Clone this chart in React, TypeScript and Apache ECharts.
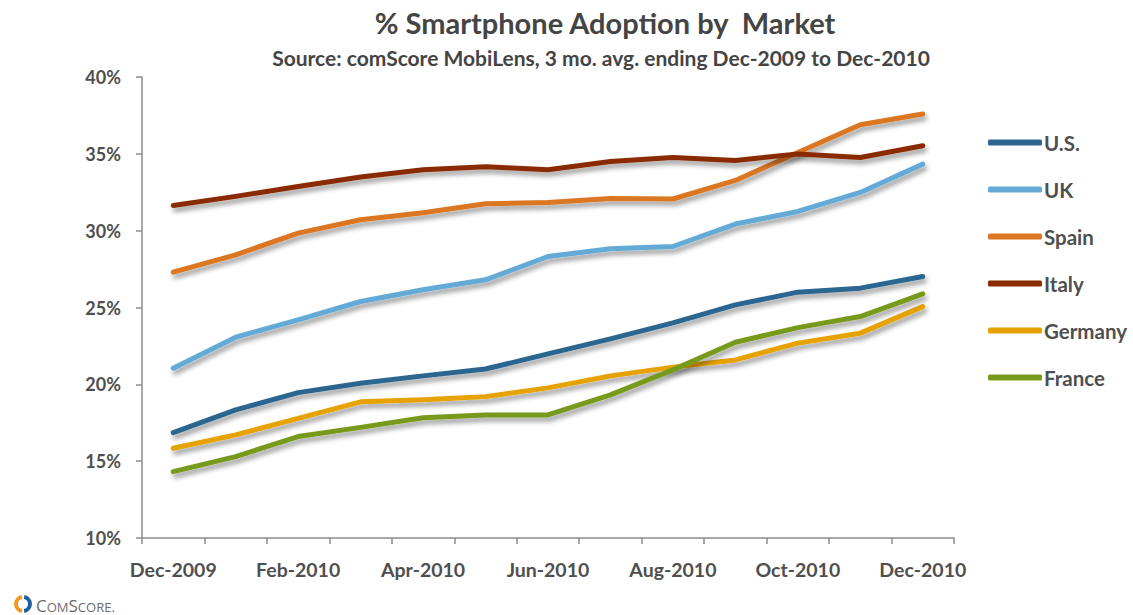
import React, { useEffect, useRef } from "react";
import * as echarts from "echarts";

const categories = [
  "Dec-2009", "Jan-2010", "Feb-2010", "Mar-2010", "Apr-2010", "May-2010", "Jun-2010",
  "Jul-2010", "Aug-2010", "Sep-2010", "Oct-2010", "Nov-2010", "Dec-2010",
];

const us = [16.86, 18.34, 19.46, 20.07, 20.55, 21.0, 21.98, 22.96, 24.0, 25.17, 26.0, 26.26, 27.02];
const uk = [21.05, 23.07, 24.2, 25.39, 26.15, 26.8, 28.32, 28.82, 28.97, 30.43, 31.25, 32.49, 34.33];
const spain = [27.3, 28.43, 29.84, 30.71, 31.16, 31.75, 31.83, 32.09, 32.06, 33.27, 35.09, 36.89, 37.59];
const italy = [31.64, 32.23, 32.88, 33.49, 33.96, 34.16, 33.96, 34.5, 34.76, 34.57, 34.99, 34.76, 35.53];
const germany = [15.84, 16.71, 17.79, 18.86, 18.99, 19.2, 19.77, 20.55, 21.12, 21.59, 22.68, 23.33, 25.06];
const france = [14.32, 15.3, 16.6, 17.2, 17.82, 18.01, 18.01, 19.31, 20.94, 22.74, 23.69, 24.41, 25.89];

const seriesNames = ["U.S.", "UK", "Spain", "Italy", "Germany", "France"];
const seriesData = [us, uk, spain, italy, germany, france];
const seriesColors = ["#2C6690", "#63AAD6", "#DB7623", "#8A2B00", "#E6A200", "#789A1A"];

const yTicks = { min: 10, max: 40, interval: 5 };

const FONT = "Lato, 'Open Sans', sans-serif";
const TEXT_COLOR = "#4f4f4f";

export default function App() {
  const ref = useRef<HTMLDivElement>(null);

  useEffect(() => {
    document.body.style.margin = "0";
    const chart = echarts.init(ref.current!, undefined, { renderer: "svg" });
    const option: any = {
      animation: false,
      backgroundColor: "#ffffff",
      textStyle: { fontFamily: FONT },
      grid: { left: 142, top: 77, right: 179, bottom: 77, containLabel: false },
      xAxis: {
        type: "category",
        data: categories,
        boundaryGap: true,
        axisLine: { show: true, lineStyle: { color: "#8c8c8c", width: 1.5 } },
        axisTick: { show: true, interval: 0, length: 6, lineStyle: { color: "#8c8c8c", width: 1.5 } },
        axisLabel: {
          interval: 1,
          margin: 21,
          color: TEXT_COLOR,
          fontFamily: FONT,
          fontWeight: "bold",
          fontSize: 19.5,
        },
        splitLine: { show: false },
      },
      yAxis: {
        type: "value",
        min: yTicks.min,
        max: yTicks.max,
        interval: yTicks.interval,
        axisLine: { show: true, lineStyle: { color: "#8c8c8c", width: 1.5 } },
        axisTick: { show: true, length: 6, lineStyle: { color: "#8c8c8c", width: 1.5 } },
        axisLabel: {
          formatter: "{value}%",
          margin: 21,
          color: TEXT_COLOR,
          fontFamily: FONT,
          fontWeight: "bold",
          fontSize: 18,
        },
        splitLine: { show: false },
      },
      legend: {
        orient: "vertical",
        left: 983,
        top: 127,
        itemWidth: 54,
        itemHeight: 6,
        itemGap: 26,
        icon: "roundRect",
        textStyle: {
          color: TEXT_COLOR,
          fontFamily: FONT,
          fontWeight: "bold",
          fontSize: 20.5,
          lineHeight: 20,
          padding: [0, 0, 0, -3],
        },
        data: seriesNames,
      },
      series: seriesNames.map((name, i) => ({
        name,
        type: "line",
        data: seriesData[i],
        showSymbol: false,
        symbol: "none",
        color: seriesColors[i],
        lineStyle: {
          width: 5,
          color: seriesColors[i],
          cap: "round",
          join: "round",
          shadowColor: "rgba(0,0,0,0.4)",
          shadowBlur: 5,
          shadowOffsetX: 2,
          shadowOffsetY: 4,
        },
        itemStyle: { color: seriesColors[i] },
      })),
      graphic: [
        {
          type: "text",
          x: 605,
          y: 22,
          style: {
            text: "% Smartphone Adoption by  Market",
            fontFamily: FONT,
            fontWeight: "bold",
            fontSize: 29,
            fill: "#444444",
            align: "center",
            verticalAlign: "middle",
          },
        },
        {
          type: "text",
          x: 601,
          y: 57,
          style: {
            text: "Source: comScore MobiLens, 3 mo. avg. ending Dec-2009 to Dec-2010",
            fontFamily: FONT,
            fontWeight: "bold",
            fontSize: 21,
            fill: "#444444",
            align: "center",
            verticalAlign: "middle",
          },
        },
        {
          type: "arc",
          shape: { cx: 23, cy: 604, r: 7, startAngle: Math.PI * 0.55, endAngle: Math.PI * 1.45 },
          style: { stroke: "#F39A1E", lineWidth: 4, fill: "none" },
        },
        {
          type: "arc",
          shape: { cx: 23, cy: 604, r: 7, startAngle: -Math.PI * 0.45, endAngle: Math.PI * 0.45 },
          style: { stroke: "#1F5E9E", lineWidth: 4, fill: "none" },
        },
        {
          type: "text",
          x: 36,
          y: 605,
          style: {
            text: "{b|C}{s|OM}{b|S}{s|CORE.}",
            fontFamily: "'Open Sans', sans-serif",
            verticalAlign: "middle",
            rich: {
              b: { fontSize: 17, fill: "#6b6b6b", fontFamily: "'Open Sans', sans-serif", fontWeight: "normal", verticalAlign: "bottom" },
              s: { fontSize: 13, fill: "#6b6b6b", fontFamily: "'Open Sans', sans-serif", fontWeight: "normal", verticalAlign: "bottom" },
            },
          },
        },
      ],
    };
    chart.setOption(option);
    return () => chart.dispose();
  }, []);

  return <div ref={ref} style={{ width: 1133, height: 615 }} />;
}
